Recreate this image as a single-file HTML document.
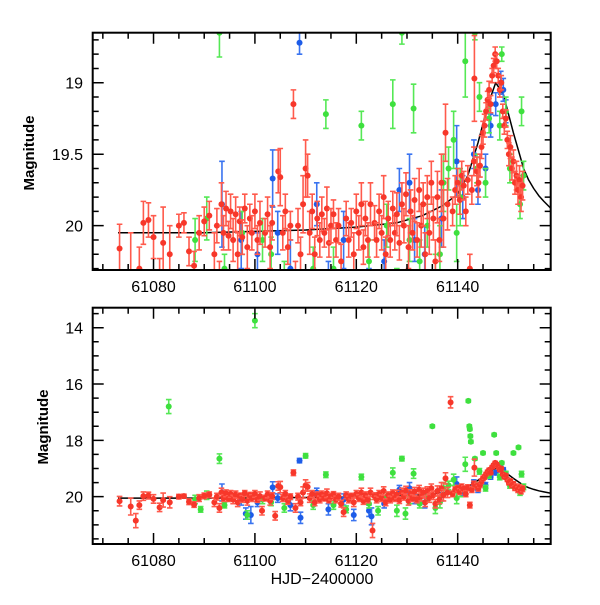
<!DOCTYPE html>
<html><head><meta charset="utf-8"><style>
html,body{margin:0;padding:0;background:#fff}
svg text{font-family:"Liberation Sans",sans-serif;fill:#000}
</style></head><body>
<svg id="c" width="600" height="600" viewBox="0 0 600 600"></svg>
<script>
const curveT=[61073,61090,61110,61120,61128,61133,61137,61140,61142,61144,61146,61147.5,61149,61151,61153,61154,61155,61156,61157,61158.4];
const curveM=[20.05,20.05,20.03,20.01,19.98,19.93,19.86,19.78,19.65,19.42,19.15,19.0,19.08,19.35,19.6,19.68,19.74,19.79,19.83,19.88];
const redT=[61073.3,61075.5,61076.5,61077.2,61078,61079,61080,61081.2,61081.9,61083.2,61085,61086,61087,61088,61089,61090,61091,61092,61092.5,61093,61093.4,61093.8,61094.3,61094.8,61095.2,61095.7,61096.2,61096.6,61097,61097.5,61098,61098.5,61099,61099.4,61100,61100.5,61101,61101.4,61102,61102.5,61103,61103.4,61104,61104.6,61105,61105.5,61106,61106.5,61107,61107.6,61108,61108.5,61109,61109.5,61110,61110.4,61110.8,61111.3,61111.8,61112.3,61112.8,61113.2,61113.7,61114.2,61114.6,61115,61115.5,61116,61116.5,61117,61117.5,61118,61118.5,61119,61119.5,61120,61120.5,61121,61121.4,61121.8,61122.3,61122.8,61123.2,61123.6,61124,61124.5,61125,61125.4,61125.8,61126.3,61126.7,61127.2,61127.6,61128,61128.5,61129,61129.4,61129.8,61130.3,61130.7,61131.1,61131.5,61132,61132.4,61132.8,61133.2,61133.6,61134,61134.4,61134.8,61135.2,61135.6,61136,61136.4,61136.8,61137.2,61137.6,61138,61138.6,61139,61139.5,61140,61140.4,61140.8,61141.2,61141.6,61142,61142.4,61142.8,61143.2,61143.3,61143.8,61144.1,61144.4,61144.7,61145,61145.3,61145.6,61145.9,61146.2,61146.5,61146.8,61147.1,61147.4,61147.7,61148,61148.3,61148.6,61148.9,61149.2,61149.5,61149.8,61150.1,61150.4,61150.7,61151,61151.3,61151.6,61151.9,61152.2,61152.5,61152.8];
const redM=[20.16,20.35,20.85,20.3,19.98,19.96,20.08,20.38,20.12,20.2,20.0,19.98,20.18,20.28,20.05,19.97,19.93,20.2,20.0,20.4,19.85,20.05,19.88,20.07,19.9,20.1,19.92,20.2,19.97,20.08,19.88,20.15,19.95,20.05,19.9,20.1,19.98,20.5,20.05,19.92,20.15,19.98,20.68,19.62,19.66,20.05,19.9,20.15,20.0,19.15,20.4,20.0,20.2,19.85,19.6,19.65,20.05,19.9,20.2,19.95,20.1,19.92,20.05,19.88,20.12,20.0,19.92,20.1,20.0,20.25,20.55,19.95,20.1,19.98,20.2,19.9,20.05,19.85,20.15,19.95,20.1,19.85,21.2,19.98,20.1,19.9,20.05,19.8,20.2,19.95,20.1,19.88,20.05,19.92,20.12,19.85,20.0,19.78,20.15,19.9,20.05,19.82,20.1,19.75,20.0,19.85,20.2,19.8,20.05,19.7,19.95,20.25,19.8,20.1,19.7,19.95,19.35,19.85,16.65,19.9,19.75,19.7,19.82,19.65,19.72,19.9,19.68,20.3,19.75,19.55,18.97,19.62,19.7,19.58,19.45,19.35,19.3,19.2,19.12,19.05,19.15,18.95,18.88,18.8,18.85,18.95,19.05,19.0,19.2,19.3,19.25,19.4,19.5,19.45,19.6,19.55,19.7,19.65,19.75,19.68,19.8,19.72];
const redE=[0.17,0.3,0.25,0.15,0.15,0.12,0.15,0.15,0.25,0.2,0.08,0.07,0.1,0.1,0.12,0.1,0.1,0.15,0.12,0.15,0.15,0.12,0.12,0.1,0.12,0.15,0.12,0.15,0.1,0.12,0.1,0.15,0.1,0.12,0.12,0.1,0.15,0.15,0.1,0.12,0.15,0.12,0.15,0.15,0.2,0.12,0.12,0.12,0.1,0.1,0.15,0.12,0.12,0.2,0.2,0.15,0.15,0.12,0.12,0.12,0.12,0.12,0.1,0.15,0.1,0.12,0.1,0.12,0.12,0.12,0.15,0.12,0.12,0.1,0.15,0.12,0.12,0.15,0.12,0.12,0.12,0.15,0.25,0.12,0.12,0.12,0.12,0.15,0.12,0.12,0.12,0.12,0.12,0.15,0.12,0.15,0.12,0.15,0.15,0.15,0.12,0.15,0.12,0.15,0.15,0.15,0.15,0.15,0.15,0.15,0.15,0.15,0.18,0.15,0.2,0.2,0.2,0.18,0.2,0.1,0.1,0.1,0.1,0.1,0.1,0.1,0.1,0.1,0.1,0.1,0.3,0.1,0.1,0.08,0.08,0.08,0.08,0.06,0.06,0.06,0.06,0.05,0.05,0.05,0.05,0.05,0.05,0.05,0.05,0.06,0.06,0.06,0.08,0.08,0.08,0.08,0.08,0.1,0.1,0.1,0.1,0.1];
const greenT=[61083,61088.2,61089.3,61090.5,61093,61094,61097.5,61098.5,61100,61101.5,61103.2,61105.8,61110,61111.5,61114,61115.5,61118,61121,61122.5,61124.3,61126,61127.2,61128,61129,61129.7,61130.5,61131.3,61132.5,61134,61135,61135.6,61136.5,61137.2,61138.2,61139.2,61139.8,61140.5,61141.5,61142.1,61142.3,61142.4,61142.5,61142.6,61143.4,61143.8,61144.3,61145,61145.5,61146.2,61147.2,61147.6,61148.3,61148.7,61149.5,61150.3,61151,61152,61152.3,61152.6,61153];
const greenM=[16.8,20.1,20.45,19.95,18.65,20.3,20.05,20.65,13.75,20.1,20.2,20.4,18.55,20.3,19.22,20.3,20.45,19.3,20.25,20.5,20.0,19.15,20.5,18.65,20.6,20.1,19.18,20.25,20.0,17.5,20.4,20.2,19.7,19.6,19.4,20.05,19.8,18.85,16.6,17.5,17.6,17.85,18.05,18.65,19.6,19.1,18.45,19.7,19.25,17.8,18.45,19.3,18.8,19.2,19.6,18.45,18.25,19.85,19.2,19.65];
const greenE=[0.25,0.15,0.1,0.15,0.17,0.1,0.15,0.15,0.25,0.15,0.12,0.15,0.08,0.15,0.1,0.15,0.12,0.1,0.15,0.15,0.15,0.17,0.2,0.08,0.2,0.15,0.17,0.15,0.15,0.05,0.2,0.2,0.2,0.15,0.2,0.2,0.2,0.25,0.05,0.05,0.05,0.05,0.05,0.05,0.1,0.1,0.05,0.1,0.1,0.05,0.05,0.1,0.05,0.1,0.1,0.05,0.05,0.1,0.1,0.1];
const blueT=[61093.5,61097.3,61098.2,61099.2,61100.5,61103.5,61104.5,61107,61108.8,61109,61112.2,61114.5,61117.5,61119.5,61122.5,61123,61125.5,61128.5,61130.5,61131.5,61133.5,61136.8,61139.8,61141,61143.2,61144,61145.5,61146.5,61147.5,61148.5,61149,61149.5];
const blueM=[19.85,20.1,20.6,20.65,20.2,19.67,20.05,20.3,18.72,20.75,19.85,20.45,20.1,20.65,20.5,20.7,20.25,19.75,19.7,20.1,20.2,19.95,19.55,19.8,19.5,19.75,19.6,19.3,19.15,19.0,19.05,19.2];
const blueE=[0.3,0.2,0.2,0.3,0.15,0.2,0.15,0.2,0.08,0.2,0.15,0.2,0.2,0.2,0.2,0.3,0.15,0.15,0.2,0.15,0.2,0.2,0.25,0.15,0.1,0.1,0.1,0.08,0.08,0.08,0.08,0.08];
const xTicks=[61080,61100,61120,61140];
const topYTicks=[19,19.5,20];
const botYTicks=[14,16,18,20];

const NS="http://www.w3.org/2000/svg";
const svg=document.getElementById('c');
const X0=92.7,X1=550.7,T0=61068,T1=61158.35;
const xs=t=>X0+(t-T0)/(T1-T0)*(X1-X0);
const panels=[
 {name:'top',y0:32.7,y1:270,m0:18.65,m1:20.31,ticks:topYTicks,minor:0.1,lab:34,labY:153},
 {name:'bottom',y0:307.7,y1:544,m0:13.29,m1:21.68,ticks:botYTicks,minor:0.5,lab:48,labY:427}
];
function mk(tag,attrs,parent){const e=document.createElementNS(NS,tag);for(const k in attrs)e.setAttribute(k,attrs[k]);(parent||svg).appendChild(e);return e;}
panels.forEach((p,pi)=>{
 const ys=m=>p.y0+(m-p.m0)/(p.m1-p.m0)*(p.y1-p.y0);
 const g=mk('g',{});
 
 
 const cp=mk('clipPath',{id:'clip'+pi},g);
 mk('rect',{x:X0,y:p.y0,width:X1-X0,height:p.y1-p.y0},cp);
 const data=mk('g',{'clip-path':'url(#clip'+pi+')'},g);
 let d='';curveT.forEach((t,i)=>{d+=(i?'L':'M')+xs(t).toFixed(1)+','+ys(curveM[i]).toFixed(1);});
 const cv=mk('path',{d:d,fill:'none',stroke:'#000','stroke-width':1.5,'stroke-linejoin':'round'},data);
 
 
 const series=[['blue',blueT,blueM,blueE,'#1d5ce8','#3a74f0'],['green',greenT,greenM,greenE,'#3ee03e','#55e855'],['red',redT,redM,redE,'#f7372a','#ff5a4c']];
 series.forEach(s=>{
  const sg=mk('g',{},data);
  
  
  s[1].forEach((t,i)=>{
   const x=xs(t),y=ys(s[2][i]),ya=ys(s[2][i]-s[3][i]),yb=ys(s[2][i]+s[3][i]);
   mk('path',{d:`M${x},${ya}L${x},${yb}M${x-2.8},${ya}L${x+2.8},${ya}M${x-2.8},${yb}L${x+2.8},${yb}`,stroke:s[5],'stroke-width':1.6,fill:'none'},sg);
   const c=mk('circle',{cx:x,cy:y,r:3,fill:s[4]},sg);
   
   
  });
 });
 const fr=mk('rect',{x:X0,y:p.y0,width:X1-X0,height:p.y1-p.y0,fill:'none',stroke:'#000','stroke-width':2},g);
 
 
 let tk='';
 for(let t=61070;t<=61158;t+=5){const x=xs(t);const L=(t%20===0)?11:6;tk+=`M${x},${p.y1}L${x},${p.y1-L}M${x},${p.y0}L${x},${p.y0+L}`;}
 for(let m=Math.ceil(p.m0/p.minor)*p.minor;m<=p.m1;m+=p.minor){const mm=Math.round(m*100)/100;const y=ys(mm);const major=p.ticks.some(v=>Math.abs(v-mm)<1e-6);const L=major?11:6;tk+=`M${X0},${y}L${X0+L},${y}M${X1},${y}L${X1-L},${y}`;}
 mk('path',{d:tk,stroke:'#000','stroke-width':1.5,fill:'none'},g);
 xTicks.forEach(t=>{const tx=mk('text',{x:xs(t),y:p.y1+22,'text-anchor':'middle','font-size':16},g);tx.textContent=t;
  
  });
 p.ticks.forEach(v=>{const tx=mk('text',{x:83,y:ys(v)+6,'text-anchor':'end','font-size':16},g);tx.textContent=String(v);
  
  });
 const yl=mk('text',{x:p.lab,y:p.labY,'text-anchor':'middle','font-size':15,'font-weight':'bold',transform:`rotate(-90 ${p.lab} ${p.labY})`},g);
 yl.textContent='Magnitude';
 
 
});
const xl=mk('text',{x:322,y:584,'text-anchor':'middle','font-size':16,'font-family':'Liberation Serif'});
xl.textContent='HJD−2400000';


</script>
</body></html>
